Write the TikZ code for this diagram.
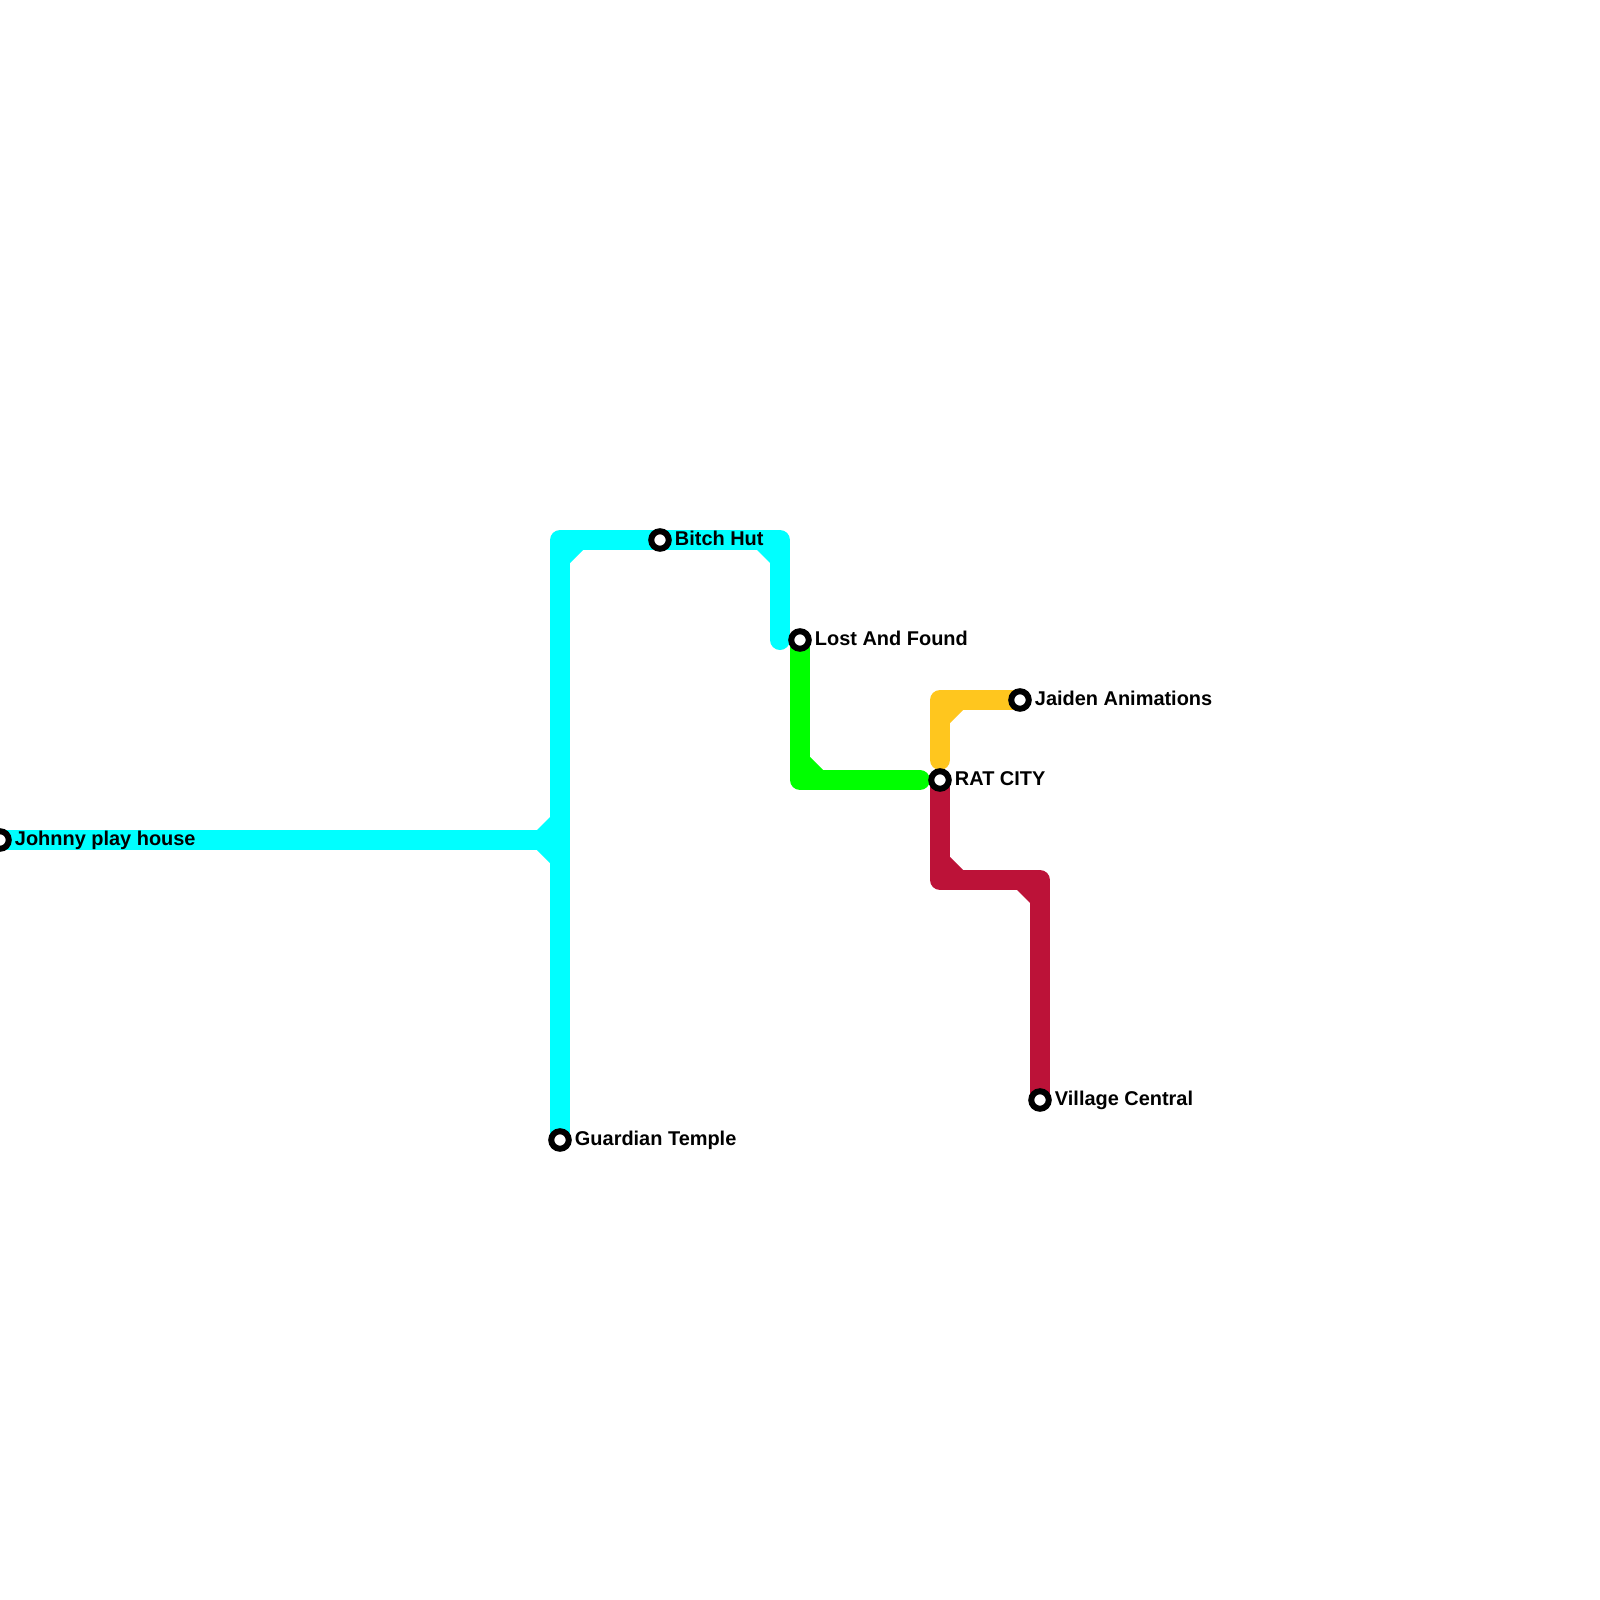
\documentclass[tikz,border=0pt]{standalone}
\usepackage{fontspec}
\setmainfont{Liberation Sans}
\usepackage{xcolor}
\usepackage{tikz}
\usetikzlibrary{calc, positioning, backgrounds}
\definecolor{cyanline}{HTML}{00FFFF}
\definecolor{greenline}{HTML}{00FF00}
\definecolor{amberline}{HTML}{FFC61E}
\definecolor{redline}{HTML}{BC1238}

\begin{document}
\begin{tikzpicture}[
        x=0.01cm, y=-0.01cm,
        stn/.style={circle, draw=black, line width=0.6mm, fill=white, minimum size=1.75mm,
            inner sep=0pt},
        lab/.style={font=\fontsize{5.67pt}{6pt}\selectfont\bfseries, text=black, inner sep=0pt,
            text height=1.46mm, text depth=0pt, yshift=0.15mm},
        route/.style={line width=2mm, line join=round, line cap=round}
    ]
    \useasboundingbox (0,0) rectangle (1600,1600);
    \tikzset{label distance=0.25mm}
    \node[stn, label={[lab]right:Johnny play house}] (johnny) at (0,840) {};
    \node[stn, label={[lab]right:Guardian Temple}] (guardian) at (560,1140) {};
    \node[stn, label={[lab]right:Bitch Hut}] (bitch) at (660,540) {};
    \node[stn, label={[lab]right:Lost And Found}] (lost) at (800,640) {};
    \node[stn, label={[lab]right:Jaiden Animations}] (jaiden) at (1020,700) {};
    \node[stn, label={[lab]right:RAT CITY}] (rat) at (940,780) {};
    \node[stn, label={[lab]right:Village Central}] (village) at (1040,1100) {};
    \coordinate (cyanend) at (780,640);
    \coordinate (amberend) at (940,760);
    \coordinate (greenend) at (920,780);
    \coordinate (jct) at (560,840);
    \begin{scope}[on background layer]
    \draw[route, cyanline, line cap=butt] (johnny.center) -- (jct);
    \draw[route, cyanline] (guardian.center) |- (bitch.center) -| (cyanend);
    \draw[route, greenline] (lost.center) |- (greenend);
    \draw[route, amberline] (jaiden.center) -| (amberend);
    \draw[route, redline] (rat.center) |- (1040,880) -- (village.center);
    \fill[cyanline] (570,563) -- (583,550) -- (570,550) -- cycle;
    \fill[cyanline] (757,550) -- (770,563) -- (770,550) -- cycle;
    \fill[cyanline] (550,817) -- (537,830) -- (550,830) -- cycle;
    \fill[cyanline] (550,863) -- (537,850) -- (550,850) -- cycle;
    \fill[greenline] (810,757) -- (823,770) -- (810,770) -- cycle;
    \fill[amberline] (950,723) -- (963,710) -- (950,710) -- cycle;
    \fill[redline] (950,857) -- (963,870) -- (950,870) -- cycle;
    \fill[redline] (1017,890) -- (1030,903) -- (1030,890) -- cycle;
    \end{scope}
\end{tikzpicture}
\end{document}
